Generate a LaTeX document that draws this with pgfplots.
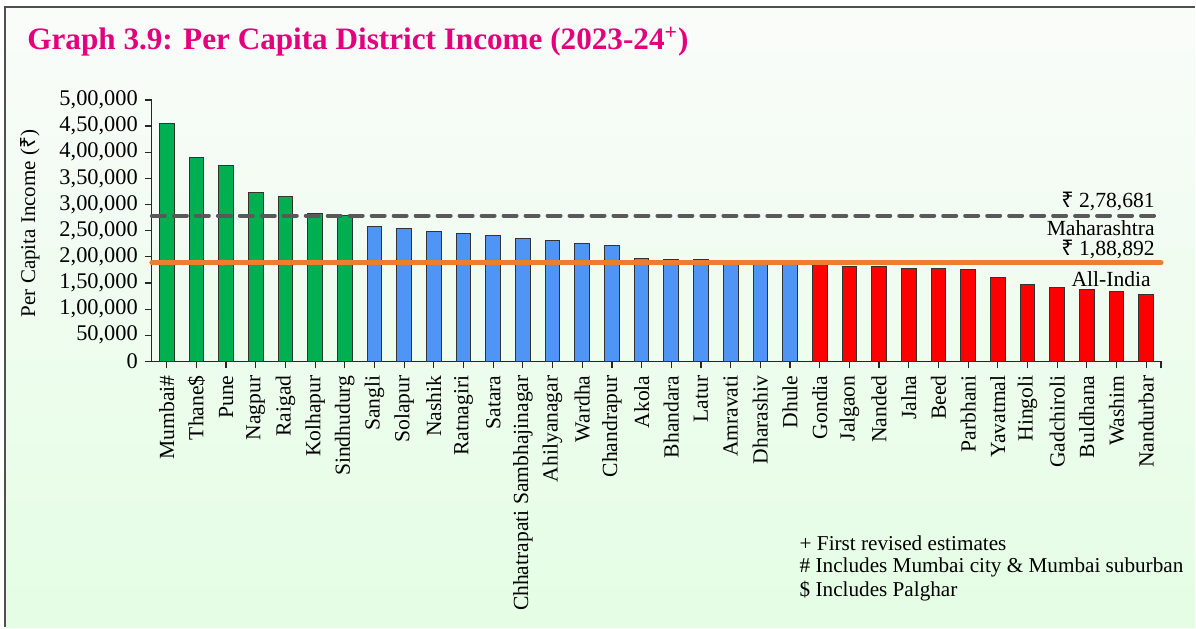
\documentclass[border=0pt]{standalone}
\usepackage{fontspec}
\setmainfont{Liberation Serif}
\newfontfamily\rupeefont{Noto Sans}
\newcommand\Rs{{\rupeefont ₹}}
\usepackage{pgfplots}
\pgfplotsset{compat=1.18}
\definecolor{titlemag}{RGB}{228,0,124}
\definecolor{bgtop}{RGB}{250,252,250}
\definecolor{bgbot}{RGB}{228,253,228}
\definecolor{bgreen}{RGB}{0,176,80}
\definecolor{bblue}{RGB}{78,149,245}
\definecolor{bred}{RGB}{255,0,0}
\definecolor{mhgrey}{RGB}{89,89,89}
\definecolor{indorange}{RGB}{237,125,49}
\definecolor{framegrey}{RGB}{80,80,80}
\begin{document}
\begin{tikzpicture}
\fill[white] (0pt,0pt) rectangle (598pt,314pt);
\shade[top color=bgtop, bottom color=bgbot] (3.25pt,0pt) rectangle (598pt,310.25pt);
\draw[framegrey, line width=1pt] (2.5pt,0pt) -- (2.5pt,310.25pt) -- (598pt,310.25pt);
\node[anchor=base west, inner sep=0pt, text=titlemag, font=\fontsize{15.6}{18}\selectfont\bfseries] at (13.5pt,289pt) {Graph 3.9: Per Capita District Income (2023-24\textsuperscript{+})};
\begin{axis}[
  at={(76pt,133.15pt)}, anchor=south west,
  scale only axis, width=505pt, height=130.85pt,
  xmin=-0.5, xmax=33.5, ymin=0, ymax=500000,
  enlargelimits=false, clip=false,
  axis x line*=bottom, axis y line*=left,
  axis line style={black!85, line width=0.6pt},
  tick style={black!85, line width=0.6pt},
  tick align=outside, major tick length=3.5pt,
  xtick={0,1,...,33}, extra x ticks={33.5}, extra x tick labels={},
  xticklabels={Mumbai\#,Thane\$,Pune,Nagpur,Raigad,Kolhapur,Sindhudurg,Sangli,Solapur,Nashik,Ratnagiri,Satara,Chhatrapati Sambhajinagar,Ahilyanagar,Wardha,Chandrapur,Akola,Bhandara,Latur,Amravati,Dharashiv,Dhule,Gondia,Jalgaon,Nanded,Jalna,Beed,Parbhani,Yavatmal,Hingoli,Gadchiroli,Buldhana,Washim,Nandurbar},
  xticklabel style={rotate=90, anchor=east, font=\fontsize{10.8}{12}\selectfont},
  ytick={0,50000,100000,150000,200000,250000,300000,350000,400000,450000,500000},
  yticklabels={0,{50,000},{1,00,000},{1,50,000},{2,00,000},{2,50,000},{3,00,000},{3,50,000},{4,00,000},{4,50,000},{5,00,000}},
  scaled y ticks=false,
  yticklabel style={font=\fontsize{11.2}{13}\selectfont},
  /pgf/number format/assume math mode=true,
]
\addplot[ybar, bar shift=0pt, bar width=7.35pt, fill=bgreen, draw=black!80, line width=0.5pt] coordinates {
(0,455400) (1,390000) (2,374000) (3,323000) (4,316000) (5,283000) (6,279000)};
\addplot[ybar, bar shift=0pt, bar width=7.35pt, fill=bblue, draw=black!80, line width=0.5pt] coordinates {
(7,258600) (8,253400) (9,249000) (10,245200) (11,241400) (12,235700) (13,231300) (14,226200) (15,222400) (16,197600) (17,194400) (18,194000) (19,193200) (20,191900) (21,190000)};
\addplot[ybar, bar shift=0pt, bar width=7.35pt, fill=bred, draw=black!80, line width=0.5pt] coordinates {
(22,186000) (23,182400) (24,181000) (25,178000) (26,177200) (27,176000) (28,160100) (29,147500) (30,141000) (31,137200) (32,134100) (33,128400)};
\addplot[mhgrey, line width=2pt, dash pattern=on 6.5pt off 4.5pt, line cap=round] coordinates {(-0.5,278681) (33.5,278681)};
\addplot[indorange, line width=2.5pt, line cap=round] coordinates {(-0.5,188892) (33.5,188892)};
\end{axis}
\node[rotate=90, font=\fontsize{10.5}{12}\selectfont] at (15pt,202.15pt) {Per Capita Income (\Rs)};
\begin{scope}[every node/.style={anchor=east, inner sep=0pt, font=\fontsize{10.8}{12}\selectfont}]
\node at (578pt,213.15pt) {\Rs\ 2,78,681};
\node at (578pt,200pt) {Maharashtra};
\node at (578pt,189pt) {\Rs\ 1,88,892};
\node at (576pt,174.5pt) {All-India};
\end{scope}
\begin{scope}[every node/.style={anchor=west, inner sep=0pt, font=\fontsize{10.6}{12}\selectfont}]
\node at (400pt,42pt) {+ First revised estimates};
\node at (400pt,30pt) {\# Includes Mumbai city \& Mumbai suburban};
\node at (400pt,18pt) {\$ Includes Palghar};
\end{scope}
\end{tikzpicture}
\end{document}
